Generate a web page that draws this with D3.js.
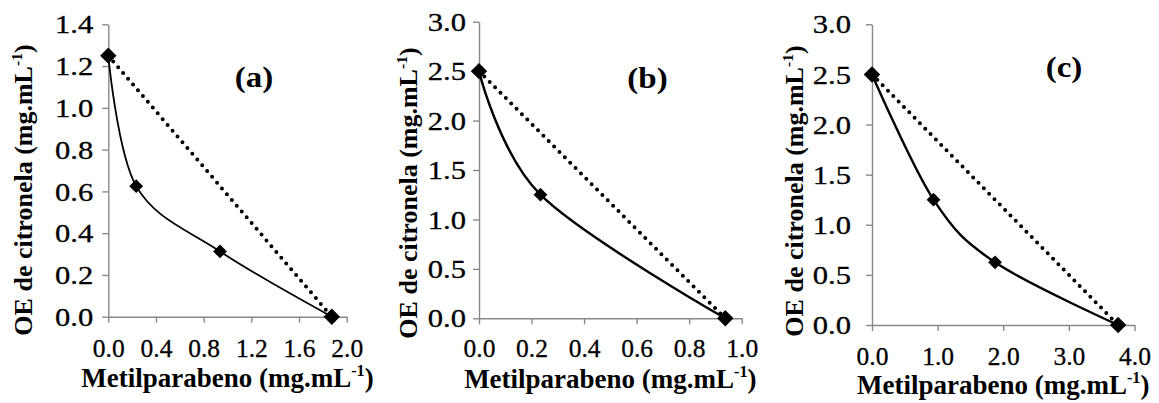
<!DOCTYPE html>
<html>
<head>
<meta charset="utf-8">
<script src="https://d3js.org/d3.v7.min.js"></script>
<style>
  body { margin: 0; background: #fff; }
  text { font-family: "Liberation Serif", "Times New Roman", serif; fill: #000; }
</style>
</head>
<body>
<div id="chart"></div>
<script>

// data
var panelLabels = ["(a)", "(b)", "(c)"];

var metilA = [0, 0.234, 0.9375, 1.875];
var oeA    = [1.25, 0.625, 0.3125, 0];

var metilB = [0, 0.234, 0.9375];
var oeB    = [2.5, 1.25, 0];

var metilC = [0, 0.9375, 1.875, 3.75];
var oeC    = [2.5, 1.25, 0.625, 0];

var xTicksA = [0, 0.4, 0.8, 1.2, 1.6, 2.0];
var xTicksB = [0, 0.2, 0.4, 0.6, 0.8, 1.0];
var xTicksC = [0, 1, 2, 3, 4];
var yTicksA = [0, 0.2, 0.4, 0.6, 0.8, 1.0, 1.2, 1.4];
var yTicksBC = [0, 0.5, 1.0, 1.5, 2.0, 2.5, 3.0];

var xTitle = "Metilparabeno (mg.mL";
var yTitle = "OE de citronela (mg.mL";

var W = 1159, H = 403;
var serif = '"Liberation Serif", "Times New Roman", serif';

// layout of each panel (pixels)
var layout = [
	{ left: 108.3, right: 346.7, top: 24.3, bottom: 316.7, yPad: 15, tickBase: 40,
	  yTitleX: 32, yTitleY: 190, xTitleY: 387, labX: 254, labY: 87, lw: 1.8 },
	{ left: 479, right: 741.7, top: 21.7, bottom: 318.3, yPad: 13, tickBase: 38.5,
	  yTitleX: 417, yTitleY: 193, xTitleY: 388, labX: 647.5, labY: 88, lw: 2.4 },
	{ left: 872, right: 1134.5, top: 24.3, bottom: 325, yPad: 21, tickBase: 40,
	  yTitleX: 803, yTitleY: 191, xTitleY: 394, labX: 1064, labY: 77, lw: 2.4 }
];

var panels = [
	{ x: metilA, y: oeA, xTicks: xTicksA, yTicks: yTicksA },
	{ x: metilB, y: oeB, xTicks: xTicksB, yTicks: yTicksBC },
	{ x: metilC, y: oeC, xTicks: xTicksC, yTicks: yTicksBC }
];

var axisColor = "#898989";
var fmt = d3.format(".1f");

var svg = d3.select("#chart")
	.append("svg")
	.attr("width", W)
	.attr("height", H);

function addTitle(g, str, fs) {
	var sup = fs * 0.4;
	g.append("tspan").text(str);
	g.append("tspan").attr("font-size", fs * 0.6).attr("dy", -sup).text("-1");
	g.append("tspan").attr("dy", sup).text(")");
}

panels.forEach(function(p, i) {
	var L = layout[i];
	var xMax = p.xTicks[p.xTicks.length - 1];
	var yMax = p.yTicks[p.yTicks.length - 1];

	var x = d3.scaleLinear().domain([0, xMax]).range([L.left, L.right]);
	var y = d3.scaleLinear().domain([0, yMax]).range([L.bottom, L.top]);

	var g = svg.append("g");

	// x axis
	var gx = g.append("g")
		.attr("transform", "translate(0," + L.bottom + ")")
		.call(d3.axisBottom(x).tickValues(p.xTicks).tickSize(6).tickSizeOuter(0).tickFormat(fmt))
		.attr("font-family", serif);
	gx.selectAll("text")
		.attr("y", L.tickBase)
		.attr("dy", null)
		.attr("stroke", "#000")
		.attr("stroke-width", 0.3)
		.style("font-size", "25.5px")
		.style("font-family", serif);

	// y axis
	var gy = g.append("g")
		.attr("transform", "translate(" + L.left + ",0)")
		.call(d3.axisLeft(y).tickValues(p.yTicks).tickSize(6).tickSizeOuter(0).tickFormat(fmt))
		.attr("font-family", serif);
	gy.selectAll("text")
		.attr("x", null)
		.attr("dy", "0.34em")
		.attr("transform", "translate(" + (-L.yPad) + ",0) scale(1.2,1)")
		.attr("stroke", "#000")
		.attr("stroke-width", 0.3)
		.style("font-size", "25.5px")
		.style("font-family", serif);

	g.selectAll(".domain, .tick line")
		.attr("stroke", axisColor)
		.attr("stroke-width", 1.4);

	// dotted line between the two single values
	var n = p.x.length - 1;
	var addLine = [[p.x[0], p.y[0]], [p.x[n], p.y[n]]];
	g.append("path")
		.datum(addLine)
		.attr("fill", "none")
		.attr("stroke", "#000")
		.attr("stroke-width", 4)
		.attr("stroke-linecap", "round")
		.attr("stroke-dasharray", "0,7.6")
		.attr("d", d3.line()
			.x(function(d) { return x(d[0]); })
			.y(function(d) { return y(d[1]); }));

	// smoothed isobologram curve
	var pts = p.x.map(function(v, k) { return [v, p.y[k]]; });
	g.append("path")
		.datum(pts)
		.attr("fill", "none")
		.attr("stroke", "#000")
		.attr("stroke-width", L.lw)
		.attr("d", d3.line()
			.curve(d3.curveCardinal.tension(0))
			.x(function(d) { return x(d[0]); })
			.y(function(d) { return y(d[1]); }));

	// markers: curve points and the end points of the dotted line
	var small = d3.symbol().type(d3.symbolSquare).size(95);
	var big = d3.symbol().type(d3.symbolSquare).size(135);
	g.selectAll(".mk")
		.data(pts)
		.enter().append("path")
		.attr("transform", function(d) { return "translate(" + x(d[0]) + "," + y(d[1]) + ") rotate(45)"; })
		.attr("d", small)
		.attr("fill", "#000");
	g.selectAll(".mk2")
		.data(addLine)
		.enter().append("path")
		.attr("transform", function(d) { return "translate(" + x(d[0]) + "," + y(d[1]) + ") rotate(45)"; })
		.attr("d", big)
		.attr("fill", "#000");

	// panel letter
	g.append("text")
		.attr("transform", "translate(" + L.labX + "," + L.labY + ") scale(1.1,1)")
		.attr("text-anchor", "middle")
		.style("font-size", "30px")
		.style("font-weight", "bold")
		.text(panelLabels[i]);

	// axis titles
	var xt = g.append("text")
		.attr("transform", "translate(" + ((L.left + L.right) / 2) + "," + L.xTitleY + ")")
		.attr("text-anchor", "middle")
		.style("font-size", "27px")
		.style("font-weight", "bold");
	addTitle(xt, xTitle, 27);

	var yt = g.append("text")
		.attr("transform", "translate(" + L.yTitleX + "," + L.yTitleY + ") rotate(-90)")
		.attr("text-anchor", "middle")
		.style("font-size", "26px")
		.style("font-weight", "bold");
	addTitle(yt, yTitle, 26);
});

</script>
</body>
</html>
